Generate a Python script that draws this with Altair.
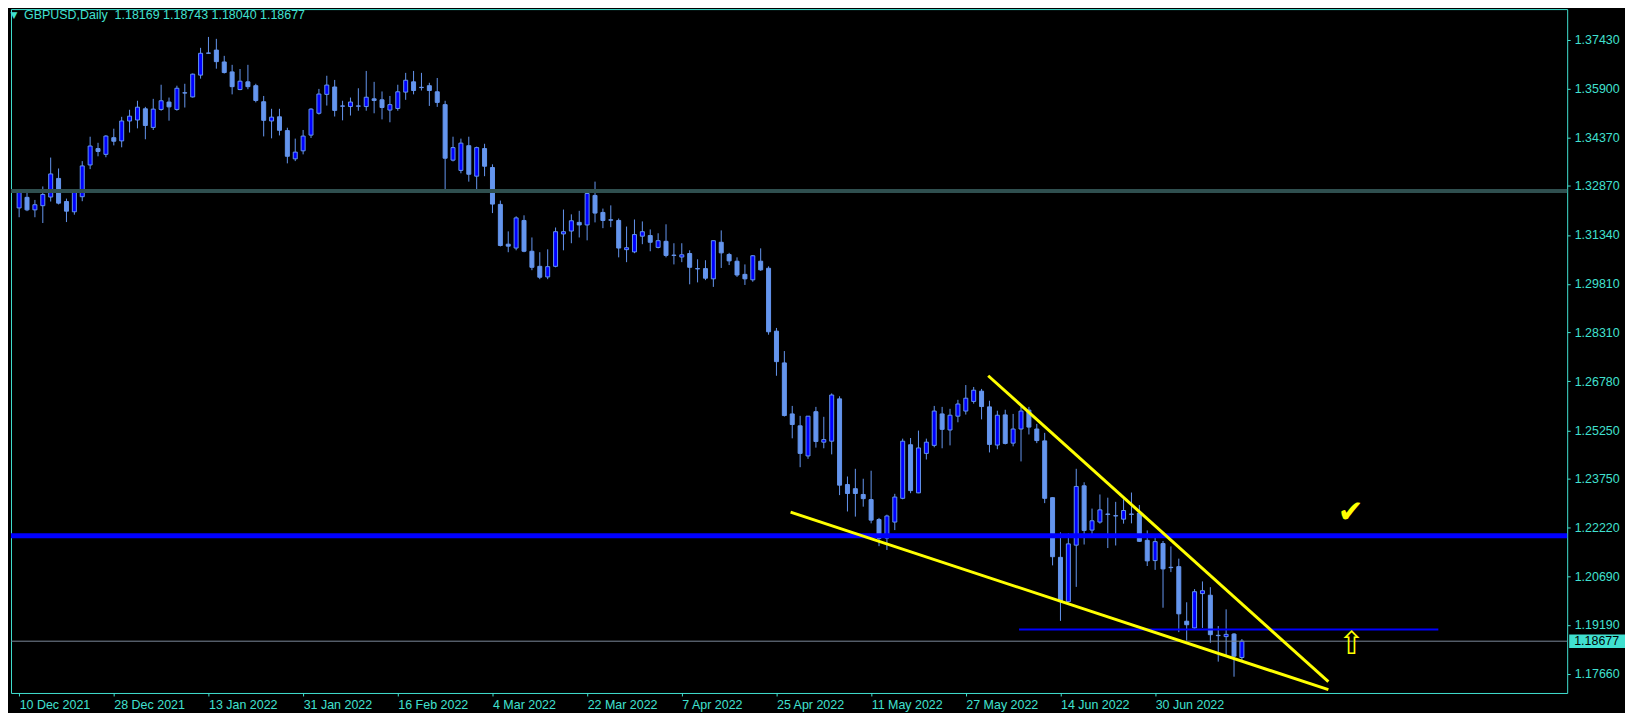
import json
import altair as alt
import pandas as pd

# ---------------- data ----------------
OPEN = [1.3218, 1.3251, 1.3212, 1.3225, 1.3252, 1.3310, 1.3238, 1.3206, 1.3253, 1.3352,
        1.3403, 1.3385, 1.3437, 1.3427, 1.3489, 1.3492, 1.3527, 1.3469, 1.3525, 1.3548,
        1.3525, 1.3577, 1.3564, 1.3632, 1.3700, 1.3710, 1.3673, 1.3642, 1.3587, 1.3611,
        1.3599, 1.3549, 1.3489, 1.3502, 1.3459, 1.3371, 1.3396, 1.3445, 1.3513, 1.3572,
        1.3595, 1.3535, 1.3534, 1.3535, 1.3534, 1.3558, 1.3555, 1.3523, 1.3528, 1.3579,
        1.3611, 1.3594, 1.3599, 1.3580, 1.3540, 1.3367, 1.3335, 1.3412, 1.3317, 1.3403,
        1.3344, 1.3229, 1.3105, 1.3093, 1.3179, 1.3083, 1.3036, 1.3003, 1.3036, 1.3137,
        1.3146, 1.3173, 1.3165, 1.3257, 1.3204, 1.3181, 1.3179, 1.3088, 1.3081, 1.3130,
        1.3132, 1.3095, 1.3114, 1.3071, 1.3065, 1.3076, 1.3029, 1.3029, 1.2997, 1.3111,
        1.3073, 1.3052, 1.3011, 1.2994, 1.3052, 1.3030, 1.2834, 1.2735, 1.2576, 1.2539,
        1.2445, 1.2583, 1.2488, 1.2491, 1.2623, 1.2356, 1.2343, 1.2325, 1.2309, 1.2247,
        1.2189, 1.2239, 1.2313, 1.2480, 1.2330, 1.2453, 1.2478, 1.2576, 1.2526, 1.2569,
        1.2585, 1.2615, 1.2647, 1.2598, 1.2479, 1.2573, 1.2485, 1.2529, 1.2588, 1.2529,
        1.2492, 1.2315, 1.2129, 1.1991, 1.2167, 1.2352, 1.2214, 1.2239, 1.2264, 1.2258,
        1.2248, 1.2264, 1.2267, 1.2182, 1.2119, 1.2172, 1.2098, 1.2100, 1.1930, 1.1909,
        1.2016, 1.2011, 1.1886, 1.1882, 1.1890, 1.18169]
HIGH = [1.3274, 1.3269, 1.3243, 1.3285, 1.3375, 1.3341, 1.3247, 1.3272, 1.3364, 1.3440,
        1.3421, 1.3445, 1.3465, 1.3502, 1.3524, 1.3552, 1.3533, 1.3558, 1.3602, 1.3562,
        1.3599, 1.3605, 1.3637, 1.3717, 1.3751, 1.3745, 1.3692, 1.3664, 1.3651, 1.3664,
        1.3605, 1.3567, 1.3527, 1.3527, 1.3468, 1.3434, 1.3461, 1.3529, 1.3589, 1.3630,
        1.3617, 1.3552, 1.3562, 1.3591, 1.3645, 1.3611, 1.3581, 1.3567, 1.3602, 1.3639,
        1.3645, 1.3639, 1.3608, 1.3623, 1.3552, 1.3440, 1.3434, 1.3440, 1.3409, 1.3418,
        1.3354, 1.3241, 1.3145, 1.3192, 1.3195, 1.3126, 1.3080, 1.3089, 1.3157, 1.3213,
        1.3198, 1.3209, 1.3275, 1.3300, 1.3216, 1.3226, 1.3185, 1.3160, 1.3182, 1.3176,
        1.3151, 1.3139, 1.3167, 1.3108, 1.3108, 1.3086, 1.3058, 1.3055, 1.3116, 1.3148,
        1.3078, 1.3064, 1.3042, 1.3071, 1.3092, 1.3036, 1.2844, 1.2772, 1.2601, 1.2570,
        1.2569, 1.2598, 1.2567, 1.2640, 1.2631, 1.2381, 1.2405, 1.2374, 1.2399, 1.2252,
        1.2262, 1.2327, 1.2499, 1.2501, 1.2524, 1.2499, 1.2601, 1.2598, 1.2592, 1.2620,
        1.2666, 1.2660, 1.2654, 1.2617, 1.2586, 1.2589, 1.2576, 1.2599, 1.2598, 1.2545,
        1.2517, 1.2316, 1.2207, 1.2204, 1.2405, 1.2363, 1.2281, 1.2325, 1.2315, 1.2302,
        1.2310, 1.2331, 1.2292, 1.2213, 1.2194, 1.2180, 1.2163, 1.2125, 1.1989, 1.2030,
        1.2054, 1.2036, 1.1915, 1.1967, 1.1893, 1.18743]
LOW = [1.3189, 1.3208, 1.3189, 1.3171, 1.3238, 1.3229, 1.3174, 1.3197, 1.3239, 1.3339,
       1.3379, 1.3376, 1.3413, 1.3407, 1.3453, 1.3466, 1.3432, 1.3461, 1.3521, 1.3490,
       1.3521, 1.3531, 1.3562, 1.3621, 1.3699, 1.3652, 1.3637, 1.3572, 1.3585, 1.3588,
       1.3547, 1.3441, 1.3435, 1.3444, 1.3357, 1.3364, 1.3385, 1.3436, 1.3509, 1.3537,
       1.3503, 1.3491, 1.3506, 1.3521, 1.3521, 1.3513, 1.3494, 1.3485, 1.3521, 1.3555,
       1.3572, 1.3584, 1.3536, 1.3533, 1.3272, 1.3363, 1.3326, 1.3300, 1.3270, 1.3317,
       1.3202, 1.3098, 1.3080, 1.3086, 1.3080, 1.3024, 1.2996, 1.2996, 1.3033, 1.3086,
       1.3108, 1.3126, 1.3117, 1.3173, 1.3155, 1.3158, 1.3064, 1.3049, 1.3077, 1.3105,
       1.3083, 1.3092, 1.3064, 1.3042, 1.3049, 1.2980, 1.2986, 1.2993, 1.2972, 1.3031,
       1.3040, 1.3003, 1.2978, 1.2988, 1.3022, 1.2823, 1.2695, 1.2568, 1.2500, 1.2410,
       1.2436, 1.2471, 1.2469, 1.2450, 1.2323, 1.2272, 1.2256, 1.2287, 1.2235, 1.2164,
       1.2152, 1.2214, 1.2310, 1.2329, 1.2329, 1.2434, 1.2472, 1.2469, 1.2478, 1.2550,
       1.2574, 1.2608, 1.2559, 1.2456, 1.2466, 1.2481, 1.2475, 1.2428, 1.2512, 1.2485,
       1.2298, 1.2104, 1.1931, 1.1988, 1.2037, 1.2169, 1.2194, 1.2234, 1.2158, 1.2166,
       1.2234, 1.2235, 1.2177, 1.2102, 1.2090, 1.1972, 1.2083, 1.1896, 1.1870, 1.1907,
       1.1909, 1.1863, 1.1804, 1.1822, 1.1757, 1.18040]
CLOSE = [1.3267, 1.3212, 1.3228, 1.3260, 1.3324, 1.3233, 1.3208, 1.3269, 1.3349, 1.3411,
         1.3394, 1.3442, 1.3426, 1.3489, 1.3504, 1.3532, 1.3475, 1.3526, 1.3552, 1.3533,
         1.3591, 1.3576, 1.3635, 1.3700, 1.3701, 1.3674, 1.3640, 1.3596, 1.3613, 1.3596,
         1.3553, 1.3491, 1.3501, 1.3460, 1.3379, 1.3392, 1.3442, 1.3526, 1.3573, 1.3601,
         1.3522, 1.3536, 1.3548, 1.3536, 1.3563, 1.3553, 1.3531, 1.3540, 1.3580, 1.3616,
         1.3584, 1.3593, 1.3584, 1.3547, 1.3373, 1.3406, 1.3420, 1.3323, 1.3406, 1.3348,
         1.3230, 1.3101, 1.3099, 1.3187, 1.3083, 1.3033, 1.3002, 1.3035, 1.3144, 1.3144,
         1.3178, 1.3165, 1.3263, 1.3202, 1.3179, 1.3180, 1.3093, 1.3094, 1.3135, 1.3144,
         1.3111, 1.3116, 1.3070, 1.3070, 1.3072, 1.3033, 1.3028, 1.2999, 1.3116, 1.3078,
         1.3053, 1.3009, 1.2997, 1.3069, 1.3025, 1.2832, 1.2739, 1.2571, 1.2543, 1.2453,
         1.2569, 1.2490, 1.2496, 1.2635, 1.2354, 1.2328, 1.2328, 1.2312, 1.2245, 1.2188,
         1.2258, 1.2317, 1.2491, 1.2337, 1.2470, 1.2488, 1.2585, 1.2528, 1.2572, 1.2607,
         1.2625, 1.2650, 1.2599, 1.2481, 1.2572, 1.2484, 1.2529, 1.2585, 1.2535, 1.2493,
         1.2313, 1.2131, 1.1991, 1.2171, 1.2350, 1.2213, 1.2243, 1.2277, 1.2263, 1.2259,
         1.2275, 1.2263, 1.2179, 1.2118, 1.2178, 1.2093, 1.2097, 1.1953, 1.1919, 1.2022,
         1.2025, 1.1888, 1.1885, 1.1889, 1.1821, 1.18677]

X_TICK_LABELS = ["10 Dec 2021", "28 Dec 2021", "13 Jan 2022", "31 Jan 2022", "16 Feb 2022",
                 "4 Mar 2022", "22 Mar 2022", "7 Apr 2022", "25 Apr 2022", "11 May 2022",
                 "27 May 2022", "14 Jun 2022", "30 Jun 2022"]
Y_TICKS = [1.37430, 1.35900, 1.34370, 1.32870, 1.31340, 1.29810, 1.28310, 1.26780,
           1.25250, 1.23750, 1.22220, 1.20690, 1.19190, 1.17660]

GREY_LEVEL = [1.32707]
BLUE_LEVEL = [1.2196]
BLUE_SEG_X = [126.75, 179.9]
BLUE_SEG_PRICE = [1.19043]
TREND_X0 = [122.84, 97.79]
TREND_P0 = [1.2695, 1.2270]
TREND_X1 = [165.96, 165.96]
TREND_P1 = [1.17415, 1.17166]
CHECK_POS = [168.8, 1.2268]
ARROW_POS = [168.9, 1.1860]
BID = [1.18677]
TITLE = "GBPUSD,Daily\u00a0\u00a01.18169 1.18743 1.18040 1.18677"

# ---------------- styling ----------------
TURQ = "#40E0D0"
BULL = "#0000FF"
BEAR = "#6495ED"
FONT = "Liberation Sans"
FS = 12.5
W, H = 1561, 686

xs = alt.Scale(domain=[-0.4, 195.6], nice=False, zero=False)
ys = alt.Scale(domain=[1.170634, 1.383777], nice=False, zero=False)

n = len(OPEN)
df = pd.DataFrame({"i": list(range(n)), "open": OPEN, "high": HIGH, "low": LOW, "close": CLOSE})

label_expr = json.dumps(X_TICK_LABELS) + "[round(datum.value / 12)]"
xaxis = alt.Axis(values=list(range(0, 12 * len(X_TICK_LABELS), 12)), labelExpr=label_expr,
                 grid=False, domain=False, ticks=True, tickColor=TURQ, tickSize=3,
                 labelColor=TURQ, labelFont=FONT, labelFontSize=FS, labelAlign="left",
                 labelBaseline="top", labelPadding=3, labelOverlap=False,
                 labelFlush=False, title=None)
yaxis = alt.Axis(orient="right", values=Y_TICKS, format=".5f", grid=False, domain=False,
                 tickColor=TURQ, tickSize=3, labelColor=TURQ, labelFont=FONT,
                 labelFontSize=FS, labelPadding=4, labelAlign="left",
                 labelBaseline="middle", labelOverlap=False, labelFlush=False, title=None)


def X(field):
    return alt.X(field, scale=xs, axis=xaxis, title=None)


def Y(field):
    return alt.Y(field, scale=ys, axis=yaxis, title=None)


base = alt.Chart(df)

wicks = base.mark_rule(color=BEAR, strokeWidth=1, clip=True).encode(
    x=X("i:Q"), y=Y("low:Q"), y2="high:Q")

bodies = base.mark_bar(size=4, stroke=BEAR, strokeWidth=1, clip=True).encode(
    x=X("i:Q"), y=Y("open:Q"), y2="close:Q",
    color=alt.condition("datum.close > datum.open", alt.value(BULL), alt.value(BEAR)),
)

grey_line = alt.Chart(pd.DataFrame({"p": GREY_LEVEL})).mark_rule(
    color="#2F4F4F", strokeWidth=4).encode(y=Y("p:Q"))

blue_line = alt.Chart(pd.DataFrame({"p": BLUE_LEVEL})).mark_rule(
    color=BULL, strokeWidth=5).encode(y=Y("p:Q"))

bid_line = alt.Chart(pd.DataFrame({"p": BID})).mark_rule(
    color="#7A8899", strokeWidth=1).encode(y=Y("p:Q"))

blue_seg = alt.Chart(pd.DataFrame({"x0": [BLUE_SEG_X[0]], "x1": [BLUE_SEG_X[1]],
                                   "p": BLUE_SEG_PRICE})).mark_rule(
    color=BULL, strokeWidth=2, clip=True).encode(x=X("x0:Q"), x2="x1:Q", y=Y("p:Q"))

trend = alt.Chart(pd.DataFrame({"x0": TREND_X0, "p0": TREND_P0,
                                "x1": TREND_X1, "p1": TREND_P1})).mark_rule(
    color="#FFFF00", strokeWidth=3, clip=True).encode(
    x=X("x0:Q"), x2="x1:Q", y=Y("p0:Q"), y2="p1:Q")

check = alt.Chart(pd.DataFrame({"x": [CHECK_POS[0]], "p": [CHECK_POS[1]]})).mark_text(
    text="\u2714", color="#FFFF00", fontSize=31, font="DejaVu Sans").encode(
    x=X("x:Q"), y=Y("p:Q"))

arrow = alt.Chart(pd.DataFrame({"x": [ARROW_POS[0]], "p": [ARROW_POS[1]]})).mark_text(
    text="\u21e7", color="#FFFF00", fontSize=32, font="DejaVu Sans").encode(
    x=X("x:Q"), y=Y("p:Q"))

bid_df = pd.DataFrame({"p": BID})
bid_box = alt.Chart(bid_df).transform_calculate(
    top="datum.p + 0.0021", bot="datum.p - 0.0021").mark_rect(color=TURQ).encode(
    x=alt.value(W + 2), x2=alt.value(W + 58), y=Y("top:Q"), y2="bot:Q")
bid_text = alt.Chart(bid_df).mark_text(
    align="left", baseline="middle", color="black", font=FONT, fontSize=FS).encode(
    x=alt.value(W + 7), y=Y("p:Q"), text=alt.Text("p:Q", format=".5f"))

title_df = pd.DataFrame({"t": [TITLE]})
title_txt = alt.Chart(title_df).mark_text(
    align="left", baseline="middle", color=TURQ, font=FONT, fontSize=FS).encode(
    x=alt.value(13), y=alt.value(6), text="t:N")
tri = alt.Chart(title_df).mark_text(
    text="\u25bc", align="center", baseline="middle", color=TURQ, font="DejaVu Sans",
    fontSize=9).encode(x=alt.value(3), y=alt.value(6))

chart = alt.layer(
    wicks, bodies, grey_line, blue_line, bid_line, blue_seg, trend,
    check, arrow, bid_box, bid_text, title_txt, tri,
).properties(
    width=W, height=H, padding=0, background="#000000",
).configure_view(
    stroke=TURQ, strokeWidth=1, fill="#000000",
)

chart.save("out.html", embed_options={"renderer": "svg", "actions": False})
